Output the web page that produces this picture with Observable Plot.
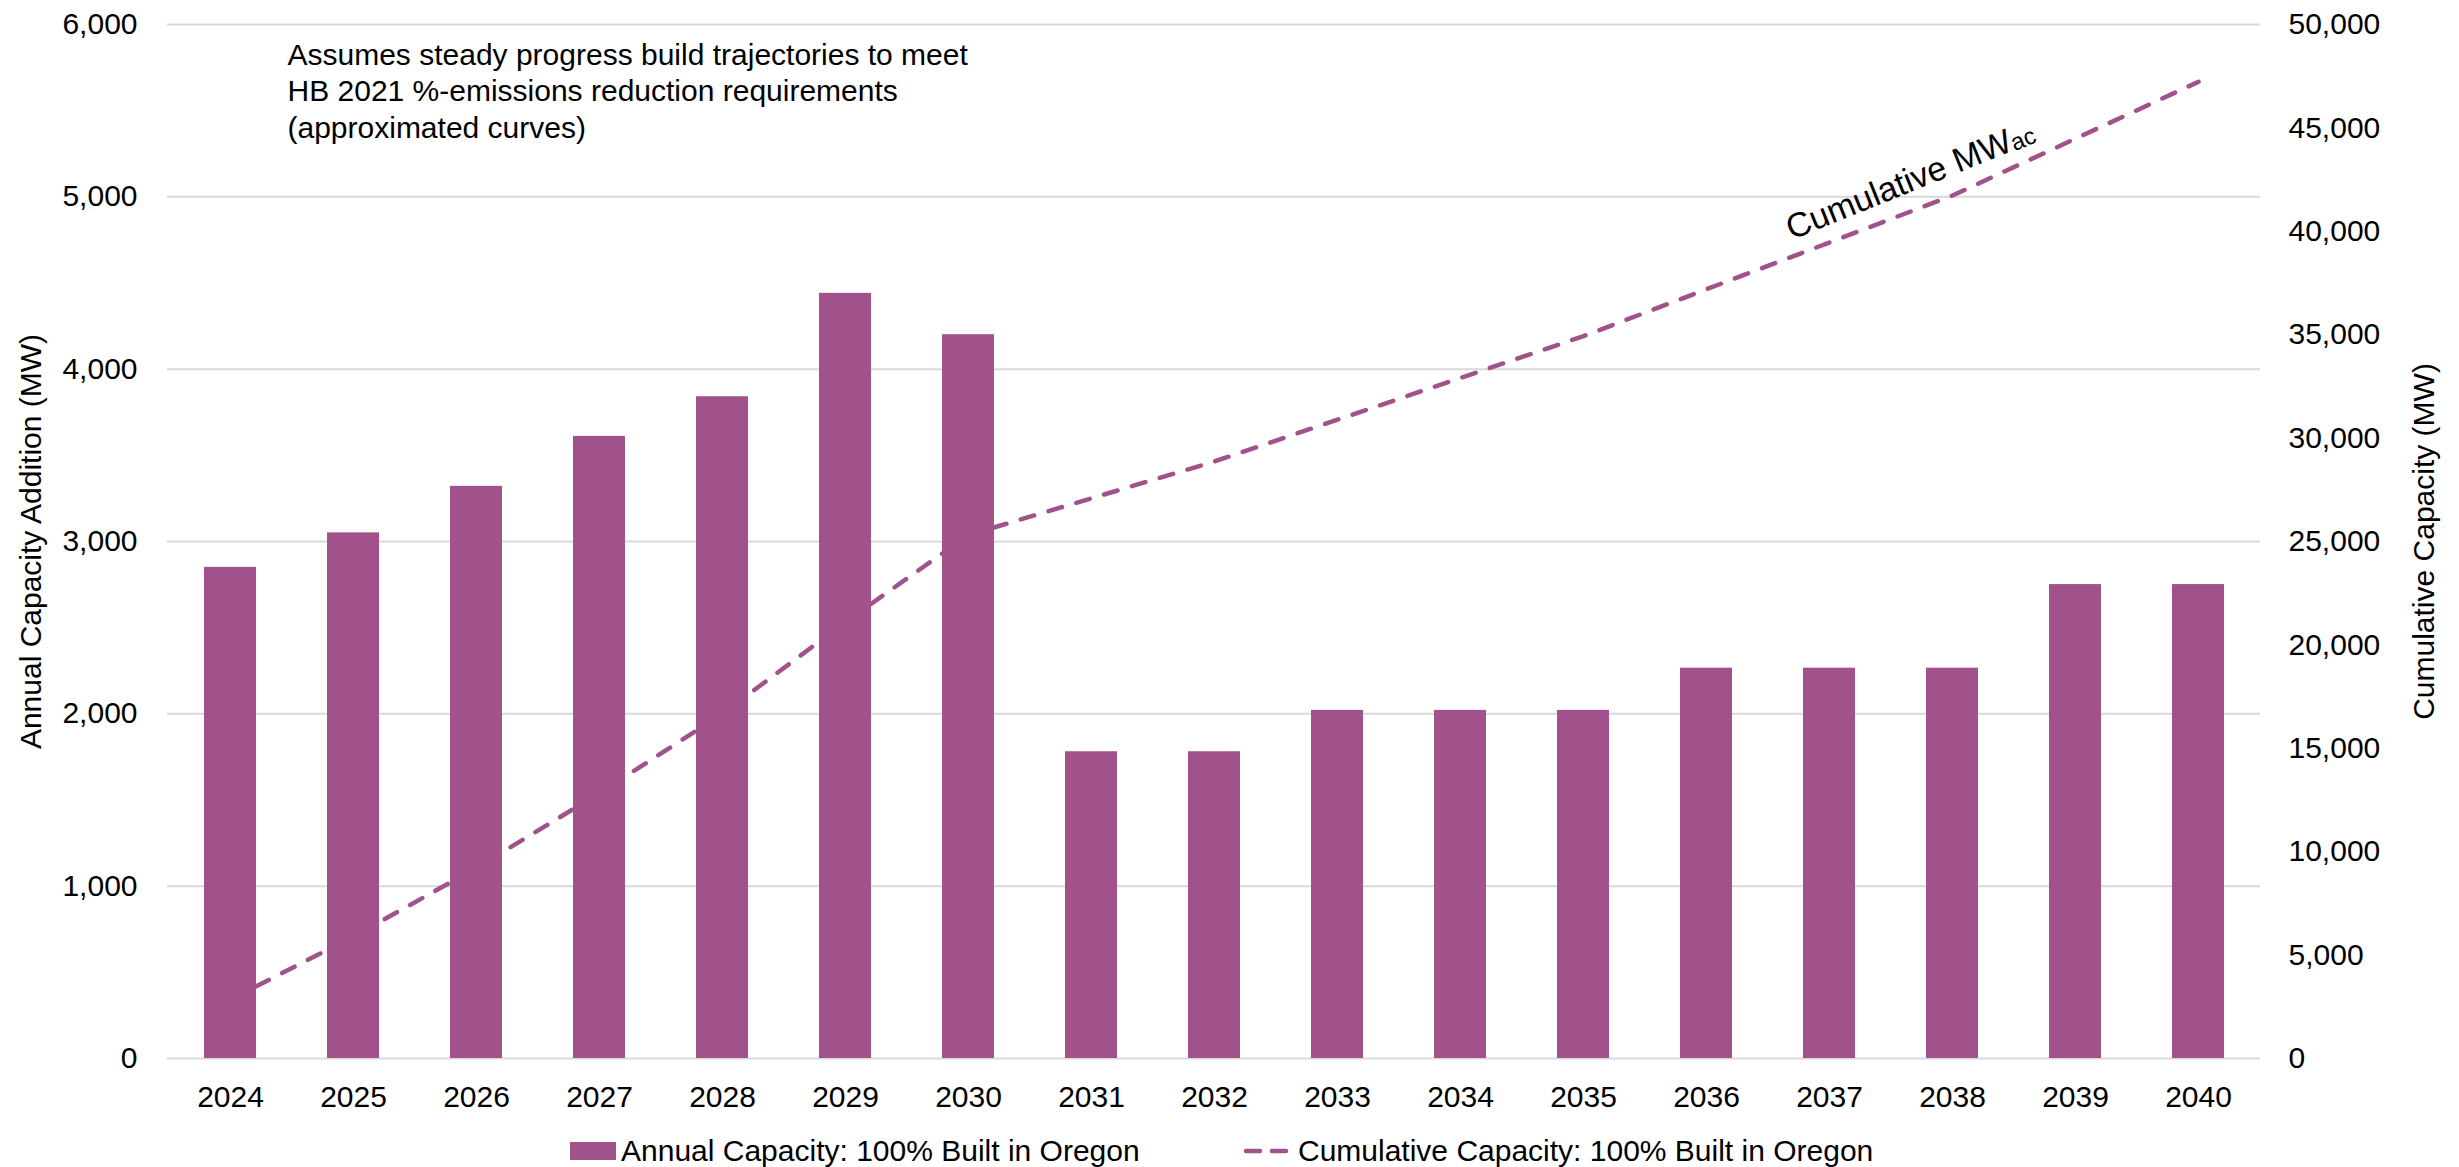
<!DOCTYPE html>
<html>
<head>
<meta charset="utf-8">
<script src="https://cdn.jsdelivr.net/npm/d3@7"></script>
<script src="https://cdn.jsdelivr.net/npm/@observablehq/plot@0.6"></script>
<style>
  html, body { margin: 0; padding: 0; background: #fff; }
  #wrap { position: relative; width: 2459px; height: 1167px; font-family: "Liberation Sans", Arial, sans-serif; color: #000; }
  .leg { position: absolute; font-size: 30px; line-height: 30px; white-space: nowrap; }
</style>
</head>
<body>
<div id="wrap"></div>
<script>
// ---- data ----
const years = ["2024","2025","2026","2027","2028","2029","2030","2031","2032","2033","2034","2035","2036","2037","2038","2039","2040"];
const annualMW = [2850, 3050, 3320, 3610, 3840, 4440, 4200, 1780, 1780, 2020, 2020, 2020, 2265, 2265, 2265, 2750, 2750];
const cumulativeMW = [2850, 5900, 9220, 12830, 16670, 21110, 25310, 27090, 28870, 30890, 32910, 34930, 37200, 39460, 41730, 44480, 47230];
const leftTicks = [0, 1000, 2000, 3000, 4000, 5000, 6000];
const rightTicks = [0, 5000, 10000, 15000, 20000, 25000, 30000, 35000, 40000, 45000, 50000];
const annotationLines = [
  "Assumes steady progress build trajectories to meet",
  "HB 2021 %-emissions reduction requirements",
  "(approximated curves)"
];
const leftTitle = "Annual Capacity Addition (MW)";
const rightTitle = "Cumulative Capacity (MW)";
const lineLabel = "Cumulative MW";
const lineLabelSub = "ac";
const barSeriesName = "Annual Capacity: 100% Built in Oregon";
const lineSeriesName = "Cumulative Capacity: 100% Built in Oregon";

const color = "#A2528A";
const leftMax = 6000, rightMax = 50000;
const toLeft = v => v * leftMax / rightMax;
const fmt = d3.format(",");

const barData = years.map((y, i) => ({year: y, value: annualMW[i]}));
const lineData = years.map((y, i) => ({year: y, value: toLeft(cumulativeMW[i])}));

const chart = Plot.plot({
  width: 2459,
  height: 1120,
  marginLeft: 167,
  marginRight: 199,
  marginTop: 24,
  marginBottom: 62,
  style: {fontFamily: "'Liberation Sans', Arial, sans-serif", fontSize: "30px", color: "#000", background: "#fff", overflow: "visible"},
  x: {domain: years, paddingInner: 0.58, paddingOuter: 0.29, label: null},
  y: {domain: [0, leftMax], label: null},
  marks: [
    Plot.gridY(leftTicks, {stroke: "#d9d9d9", strokeOpacity: 1, strokeWidth: 2}),
    Plot.axisY(leftTicks, {anchor: "left", tickSize: 0, tickPadding: 30, tickFormat: fmt,
      label: leftTitle, labelAnchor: "center", labelArrow: "none", labelOffset: 148}),
    Plot.axisY(rightTicks.map(toLeft), {anchor: "right", tickSize: 0, tickPadding: 28,
      tickFormat: d => fmt(Math.round(d * rightMax / leftMax)),
      label: rightTitle, labelAnchor: "center", labelArrow: "none", labelOffset: 173}),
    Plot.axisX({tickSize: 0, tickPadding: 27, label: null}),
    Plot.lineY(lineData, {x: "year", y: "value", stroke: color, strokeWidth: 4.5,
      strokeDasharray: "14,15", strokeLinecap: "round"}),
    Plot.barY(barData, {x: "year", y: "value", fill: color}),
    Plot.text([annotationLines.join("\n")], {frameAnchor: "top-left", dx: 120, dy: 14,
      lineAnchor: "top", textAnchor: "start", fontSize: 30, lineHeight: 1.22, fill: "#000"}),
    Plot.text([lineLabel], {x: () => "2038", y: () => 5096, dx: -42, rotate: -22, fontSize: 34,
      textAnchor: "middle", fill: "#000"})
  ]
});

// subscript for "MWac"
d3.select(chart).selectAll("text").each(function() {
  if (this.textContent === lineLabel) {
    d3.select(this).append("tspan").attr("font-size", "0.7em").attr("dy", "0.05em").text(lineLabelSub);
  }
});

const wrap = document.getElementById("wrap");
wrap.appendChild(chart);

// legend below the chart
const leg = d3.select(wrap);
leg.append("div").attr("class", "leg")
  .style("left", "570px").style("top", "1142px").style("width", "46px").style("height", "18px")
  .style("background", color);
leg.append("div").attr("class", "leg").style("left", "621px").style("top", "1136px").text(barSeriesName);
const dash = leg.append("svg").attr("class", "leg").attr("width", 50).attr("height", 20)
  .style("left", "1241px").style("top", "1141px");
dash.append("line").attr("x1", 5).attr("x2", 47).attr("y1", 10).attr("y2", 10)
  .attr("stroke", color).attr("stroke-width", 4.5).attr("stroke-dasharray", "14,12").attr("stroke-linecap", "round");
leg.append("div").attr("class", "leg").style("left", "1298px").style("top", "1136px").text(lineSeriesName);
</script>
</body>
</html>
